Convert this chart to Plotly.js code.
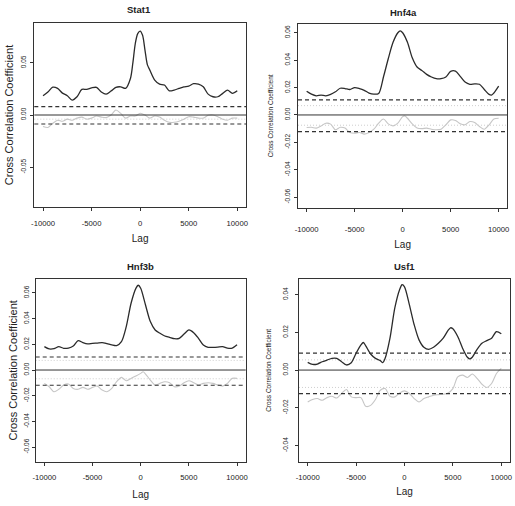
<!DOCTYPE html>
<html>
<head>
<meta charset="utf-8">
<script src="https://cdn.plot.ly/plotly-3.0.1.min.js"></script>
<style>html,body{margin:0;padding:0;background:#fff;}#chart{width:515px;height:506px;}</style>
</head>
<body>
<div id="chart"></div>
<script>
// ---------------- DATA ----------------
const panelNames = ["Stat1", "Hnf4a", "Hnf3b", "Usf1"];
const xTickVals = [-10000, -5000, 0, 5000, 10000];
const xTickText = ["-10000", "-5000", "0", "5000", "10000"];

// Stat1
const stat1Lag = [-10000,-9500,-9000,-8500,-8000,-7500,-7000,-6500,-6000,-5500,-5000,-4500,-4000,-3500,-3000,-2500,-2000,-1500,-1000,-750,-500,-250,0,250,500,750,1000,1500,2000,2500,3000,3500,4000,4500,5000,5500,6000,6500,7000,7500,8000,8500,9000,9500,10000];
const stat1Obs = [0.0185,0.022,0.0267,0.0255,0.021,0.0185,0.0143,0.0175,0.0245,0.0245,0.026,0.0265,0.022,0.020,0.023,0.0265,0.027,0.0255,0.035,0.050,0.0685,0.078,0.0805,0.0765,0.062,0.048,0.043,0.0335,0.0296,0.0287,0.0232,0.0239,0.0255,0.027,0.0277,0.030,0.0296,0.027,0.020,0.0175,0.0175,0.0207,0.0239,0.0207,0.0232];
const stat1CtrlLag = [-10000,-9500,-9000,-8500,-8000,-7500,-7000,-6500,-6000,-5500,-5000,-4500,-4000,-3500,-3000,-2500,-2000,-1500,-1000,-500,0,500,1000,1500,2000,2500,3000,3500,4000,4500,5000,5500,6000,6500,7000,7500,8000,8500,9000,9500,10000];
const stat1Ctrl = [-0.011,-0.012,-0.008,-0.005,-0.006,-0.004,-0.005,-0.003,-0.002,-0.004,-0.003,-0.001,-0.002,-0.0025,0.0,0.0048,0.0016,-0.003,-0.001,-0.001,0.0016,0.0,-0.003,-0.001,-0.002,-0.005,-0.007,-0.007,-0.006,-0.004,-0.0016,-0.002,-0.003,-0.003,-0.0003,0.0,-0.0016,-0.004,-0.005,-0.003,-0.003];
const stat1Dashed = [0.008, -0.0086];
const stat1Dotted = [-0.004];
const stat1YTicks = [-0.05, 0, 0.05];
const stat1YText = ["-0.05", "0.00", "0.05"];

// Hnf4a
const hnf4aLag = [-10000,-9500,-9000,-8500,-8000,-7500,-7000,-6500,-6000,-5500,-5000,-4500,-4000,-3500,-3000,-2500,-2000,-1500,-1000,-500,-250,0,500,1000,1500,2000,2500,3000,3500,4000,4500,5000,5500,6000,6500,7000,7500,8000,8500,9000,9250,9500,10000];
const hnf4aObs = [0.0173,0.0152,0.014,0.0145,0.014,0.015,0.0169,0.0195,0.0193,0.0186,0.020,0.0193,0.018,0.016,0.0152,0.0157,0.0277,0.041,0.053,0.060,0.0614,0.060,0.053,0.0417,0.035,0.0325,0.0296,0.0277,0.0265,0.0265,0.0277,0.0318,0.032,0.0282,0.024,0.0224,0.0227,0.0224,0.0186,0.015,0.0145,0.016,0.021];
const hnf4aCtrlLag = [-10000,-9500,-9000,-8500,-8000,-7500,-7000,-6500,-6000,-5500,-5000,-4500,-4000,-3500,-3000,-2500,-2000,-1500,-1000,-500,0,250,500,1000,1500,2000,2500,3000,3500,4000,4500,5000,5500,6000,6500,7000,7500,8000,8500,9000,9500,10000];
const hnf4aCtrl = [-0.0092,-0.009,-0.0096,-0.008,-0.006,-0.0067,-0.0108,-0.009,-0.0096,-0.0128,-0.0133,-0.0128,-0.014,-0.0128,-0.0104,-0.006,-0.003,-0.0065,-0.008,-0.006,-0.0012,-0.0007,-0.0024,-0.0065,-0.0096,-0.010,-0.0096,-0.0104,-0.0108,-0.0104,-0.0072,-0.0036,-0.004,-0.0065,-0.0072,-0.0048,-0.0055,-0.0084,-0.0104,-0.0072,-0.003,-0.0024];
const hnf4aDashed = [0.011, -0.0122];
const hnf4aDotted = [0.0068, -0.0075];
const hnf4aYTicks = [-0.06, -0.04, -0.02, 0, 0.02, 0.04, 0.06];
const hnf4aYText = ["-0.06", "-0.04", "-0.02", "0.00", "0.02", "0.04", "0.06"];

// Hnf3b
const hnf3bLag = [-10000,-9500,-9000,-8500,-8000,-7500,-7000,-6500,-6000,-5500,-5000,-4500,-4000,-3500,-3000,-2500,-2000,-1500,-1000,-500,-250,0,500,1000,1500,2000,2500,3000,3500,4000,4500,5000,5500,6000,6500,7000,7500,8000,8500,9000,9500,10000];
const hnf3bObs = [0.0182,0.0164,0.0166,0.0182,0.0169,0.0171,0.0187,0.0229,0.0213,0.0203,0.0208,0.021,0.0213,0.0205,0.0195,0.019,0.0221,0.0338,0.052,0.0636,0.066,0.0636,0.0506,0.0377,0.0312,0.0286,0.0265,0.0255,0.0244,0.0247,0.028,0.0312,0.0291,0.0247,0.0195,0.0177,0.0177,0.0179,0.0182,0.0171,0.0171,0.0197];
const hnf3bCtrlLag = [-10000,-9500,-9000,-8500,-8000,-7500,-7000,-6500,-6000,-5500,-5000,-4500,-4000,-3500,-3000,-2500,-2000,-1500,-1000,-500,0,250,500,1000,1500,2000,2500,3000,3500,4000,4500,5000,5500,6000,6500,7000,7500,8000,8500,9000,9500,10000];
const hnf3bCtrl = [-0.0104,-0.013,-0.0169,-0.015,-0.0117,-0.0109,-0.0143,-0.015,-0.0135,-0.015,-0.0135,-0.0125,-0.0156,-0.0169,-0.0143,-0.0091,-0.0057,-0.0083,-0.0065,-0.0047,-0.0026,-0.0013,-0.0031,-0.0078,-0.0117,-0.0104,-0.0091,-0.0099,-0.013,-0.0125,-0.0099,-0.0083,-0.0099,-0.0117,-0.0104,-0.0099,-0.0104,-0.0117,-0.0125,-0.0104,-0.0065,-0.0065];
const hnf3bDashed = [0.0101, -0.0119];
const hnf3bDotted = [0.0075, -0.0068];
const hnf3bYTicks = [-0.06, -0.04, -0.02, 0, 0.02, 0.04, 0.06];
const hnf3bYText = ["-0.06", "-0.04", "-0.02", "0.00", "0.02", "0.04", "0.06"];

// Usf1
const usf1Lag = [-10000,-9500,-9000,-8500,-8000,-7500,-7000,-6500,-6000,-5500,-5000,-4500,-4250,-4000,-3500,-3000,-2500,-2250,-2000,-1500,-1000,-500,-250,0,500,1000,1500,2000,2500,3000,3500,4000,4500,4750,5000,5500,6000,6500,6750,7000,7500,8000,8500,9000,9500,10000];
const usf1Obs = [0.0041,0.003,0.0032,0.0044,0.0053,0.0062,0.0062,0.0044,0.0027,0.0039,0.0089,0.0133,0.0146,0.0128,0.0085,0.0062,0.005,0.0039,0.0062,0.0169,0.0329,0.0427,0.0452,0.0441,0.0347,0.024,0.016,0.0121,0.011,0.0121,0.0142,0.0169,0.021,0.0224,0.0219,0.0178,0.0116,0.0068,0.0059,0.0068,0.011,0.0142,0.0156,0.0169,0.0204,0.0192];
const usf1CtrlLag = [-10000,-9500,-9000,-8500,-8000,-7500,-7000,-6500,-6000,-5500,-5000,-4500,-4000,-3500,-3000,-2500,-2000,-1500,-1000,-500,0,500,1000,1500,2000,2500,3000,3500,4000,4500,5000,5500,6000,6500,7000,7500,8000,8500,9000,9500,10000];
const usf1Ctrl = [-0.0169,-0.0156,-0.0151,-0.016,-0.0146,-0.0139,-0.0148,-0.0124,-0.0103,-0.0142,-0.0146,-0.0146,-0.0192,-0.0187,-0.0156,-0.0107,-0.0098,-0.0139,-0.0142,-0.0121,-0.011,-0.0124,-0.0151,-0.0169,-0.0151,-0.0142,-0.0133,-0.013,-0.0128,-0.0121,-0.0098,-0.0036,-0.0027,-0.0039,-0.0021,-0.0044,-0.0075,-0.0092,-0.0071,-0.0018,0.0009];
const usf1Dashed = [0.009, -0.0125];
const usf1Dotted = [0.0054, -0.0092];
const usf1YTicks = [-0.04, -0.02, 0, 0.02, 0.04];
const usf1YText = ["-0.04", "-0.02", "0.00", "0.02", "0.04"];

// ---------------- STYLE / LAYOUT ----------------
const W = 515, H = 506;
const FONT = "Liberation Sans, Arial, Helvetica, sans-serif";
const TXT = "#222";

const panels = [
  {name: panelNames[0], lag: stat1Lag, obs: stat1Obs, cLag: stat1CtrlLag, ctrl: stat1Ctrl, dashed: stat1Dashed, dotted: stat1Dotted, yt: stat1YTicks, ytt: stat1YText,
   box: [34.3, 246, 23, 207], yr: [-0.0882, 0.0882], ytSize: 11, yStand: 3, yLabStand: 2, xLabStand: 6, xStand: 7, titleXY: [139, 9.3]},
  {name: panelNames[1], lag: hnf4aLag, obs: hnf4aObs, cLag: hnf4aCtrlLag, ctrl: hnf4aCtrl, dashed: hnf4aDashed, dotted: hnf4aDotted, yt: hnf4aYTicks, ytt: hnf4aYText,
   box: [298, 507.3, 24, 207.7], yr: [-0.0677, 0.0664], ytSize: 6.5, yStand: 10, yLabStand: 1, xLabStand: 11, xStand: 8, titleXY: [403, 13]},
  {name: panelNames[2], lag: hnf3bLag, obs: hnf3bObs, cLag: hnf3bCtrlLag, ctrl: hnf3bCtrl, dashed: hnf3bDashed, dotted: hnf3bDotted, yt: hnf3bYTicks, ytt: hnf3bYText,
   box: [35.7, 245.7, 278.7, 462], yr: [-0.0716, 0.0711], ytSize: 11, yStand: 3, yLabStand: 0, xLabStand: 5, xStand: 9, titleXY: [140, 266.7]},
  {name: panelNames[3], lag: usf1Lag, obs: usf1Obs, cLag: usf1CtrlLag, ctrl: usf1Ctrl, dashed: usf1Dashed, dotted: usf1Dotted, yt: usf1YTicks, ytt: usf1YText,
   box: [299, 510, 278.7, 462], yr: [-0.0487, 0.0484], ytSize: 6.5, yStand: 10, yLabStand: 4, xLabStand: 5, xStand: 6, titleXY: [404, 266.3]}
];

const traces = [];
const shapes = [];
const annotations = [];
const layout = {
  width: W, height: H,
  margin: {l: 0, r: 0, t: 0, b: 0, pad: 0},
  paper_bgcolor: "#fff", plot_bgcolor: "#fff",
  showlegend: false,
  font: {family: FONT, color: TXT, size: 8}
};

panels.forEach((p, i) => {
  const n = i + 1;
  const xa = n === 1 ? "x" : "x" + n;
  const ya = n === 1 ? "y" : "y" + n;
  const xKey = n === 1 ? "xaxis" : "xaxis" + n;
  const yKey = n === 1 ? "yaxis" : "yaxis" + n;

  layout[xKey] = {
    domain: [p.box[0] / W, p.box[1] / W],
    anchor: ya,
    range: [-10900, 10900],
    tickvals: xTickVals, ticktext: xTickText,
    tickfont: {size: 7.7, family: FONT, color: TXT},
    ticks: "outside", ticklen: 3, tickwidth: 1, tickcolor: "#333",
    ticklabelstandoff: p.xLabStand,
    showgrid: false, zeroline: false,
    showline: true, mirror: true, linecolor: "#333", linewidth: 1,
    title: {text: "Lag", font: {size: 10, family: FONT, color: TXT}, standoff: p.xStand},
    fixedrange: true
  };
  layout[yKey] = {
    domain: [1 - p.box[3] / H, 1 - p.box[2] / H],
    anchor: xa,
    range: p.yr,
    tickvals: p.yt, ticktext: p.ytt, tickangle: -90,
    tickfont: {size: 6.5, family: FONT, color: TXT},
    ticks: "outside", ticklen: 3, tickwidth: 1, tickcolor: "#333",
    ticklabelstandoff: p.yLabStand,
    showgrid: false, zeroline: false,
    showline: true, mirror: true, linecolor: "#333", linewidth: 1,
    title: {text: "Cross Correlation Coefficient", font: {size: p.ytSize, family: FONT, color: TXT}, standoff: p.yStand},
    fixedrange: true
  };

  traces.push({
    x: p.cLag, y: p.ctrl, xaxis: xa, yaxis: ya, type: "scatter", mode: "lines",
    line: {color: "#c6c6c6", width: 1.1, shape: "spline", smoothing: 0.8}, hoverinfo: "skip"
  });
  traces.push({
    x: p.lag, y: p.obs, xaxis: xa, yaxis: ya, type: "scatter", mode: "lines",
    line: {color: "#2b2b2b", width: 1.3, shape: "spline", smoothing: 0.8}, hoverinfo: "skip"
  });

  // zero line
  shapes.push({type: "line", xref: xa + " domain", yref: ya, x0: 0, x1: 1, y0: 0, y1: 0,
    line: {color: "#333", width: 1}, layer: "above"});
  p.dashed.forEach(v => shapes.push({type: "line", xref: xa + " domain", yref: ya, x0: 0, x1: 1, y0: v, y1: v,
    line: {color: "#333", width: 1.1, dash: "4px,3px"}, layer: "above"}));
  p.dotted.forEach(v => shapes.push({type: "line", xref: xa + " domain", yref: ya, x0: 0, x1: 1, y0: v, y1: v,
    line: {color: "#c8c8c8", width: 0.9, dash: "1px,2px"}, layer: "below"}));

  annotations.push({
    text: "<b>" + p.name + "</b>", xref: "paper", yref: "paper",
    x: p.titleXY[0] / W, y: 1 - p.titleXY[1] / H, xanchor: "center", yanchor: "middle",
    showarrow: false, font: {size: 9.5, family: FONT, color: TXT}
  });
});

layout.shapes = shapes;
layout.annotations = annotations;

Plotly.newPlot("chart", traces, layout, {displayModeBar: false, staticPlot: true});
</script>
</body>
</html>
